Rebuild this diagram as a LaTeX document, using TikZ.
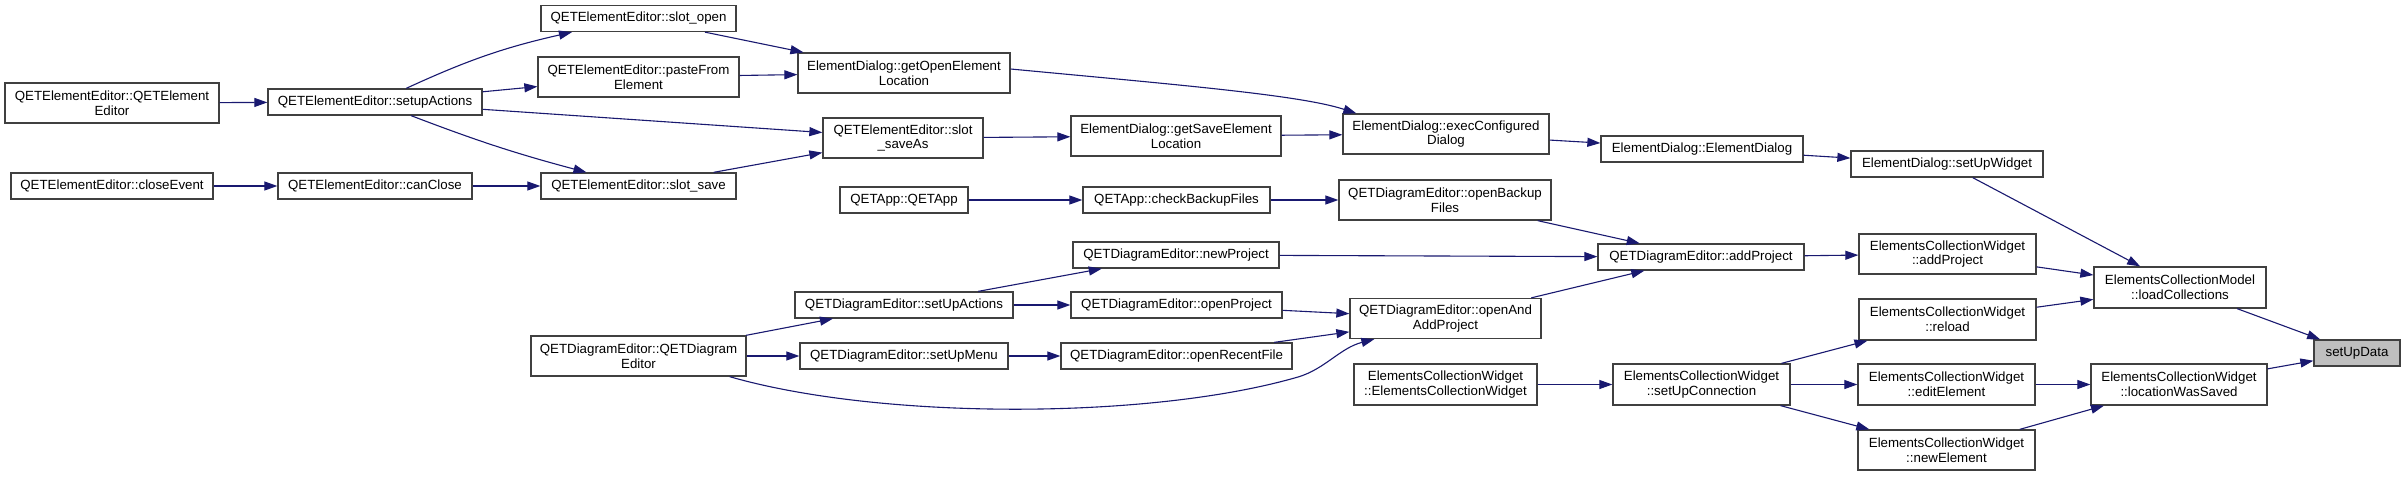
\documentclass[tikz,border=0pt]{standalone}
\usepackage{fontspec}
\setmainfont{Liberation Sans}
\usetikzlibrary{arrows.meta}
\definecolor{edgec}{HTML}{191970}
\definecolor{boxc}{HTML}{404040}
\definecolor{rootc}{HTML}{BFBFBF}
\begin{document}
\begin{tikzpicture}[x=1pt,y=-1pt,
  box/.style={draw=boxc, line width=1.3pt, fill=white, inner sep=0pt, align=center,
    font=\fontsize{13.3}{14.6}\selectfont},
  one/.style={box, minimum height=26pt},
  two/.style={box, minimum height=40pt},
  root/.style={one, fill=rootc},
  e/.style={draw=edgec, line width=1.1pt, -{Triangle[length=13pt,width=9pt]}}]
\fill[white] (0,0) rectangle (2404,477);
\useasboundingbox (0,0) rectangle (2404,477);

% QETElementEditor part
\node[two, minimum width=214pt] (eeQEE) at (112,103) {QETElementEditor::QETElement\\Editor};
\node[one, minimum width=214pt] (eeSetup) at (375,102) {QETElementEditor::setupActions};
\node[one, minimum width=195pt] (eeOpen) at (638.5,18.5) {QETElementEditor::slot\_open};
\node[two, minimum width=201pt] (eePaste) at (638.5,77) {QETElementEditor::pasteFrom\\Element};
\node[one, minimum width=202pt] (eeClose) at (112,186) {QETElementEditor::closeEvent};
\node[one, minimum width=194pt] (eeCan) at (375,186) {QETElementEditor::canClose};
\node[one, minimum width=195pt] (eeSave) at (638.5,186) {QETElementEditor::slot\_save};
\node[two, minimum width=212pt] (edGetOpen) at (904,73) {ElementDialog::getOpenElement\\Location};
\node[two, minimum width=160pt] (eeSaveAs) at (903,138) {QETElementEditor::slot\\\_saveAs};
\node[two, minimum width=210pt] (edGetSave) at (1176,136) {ElementDialog::getSaveElement\\Location};
\node[two, minimum width=206pt] (edExec) at (1446,134) {ElementDialog::execConfigured\\Dialog};
\node[one, minimum width=202pt] (edED) at (1702,149) {ElementDialog::ElementDialog};
\node[one, minimum width=192pt] (edWidget) at (1947,164) {ElementDialog::setUpWidget};

% QETApp / QETDiagramEditor part
\node[one, minimum width=128pt] (appApp) at (904,200) {QETApp::QETApp};
\node[one, minimum width=187pt] (appCheck) at (1176.5,200) {QETApp::checkBackupFiles};
\node[two, minimum width=212pt] (deBackup) at (1445,200) {QETDiagramEditor::openBackup\\Files};
\node[one, minimum width=206pt] (deNew) at (1176,255) {QETDiagramEditor::newProject};
\node[one, minimum width=206pt] (deAdd) at (1701,257) {QETDiagramEditor::addProject};
\node[two, minimum width=177pt] (ecwAdd) at (1947.5,254) {ElementsCollectionWidget\\::addProject};
\node[box, minimum height=41pt, minimum width=172pt] (ecmLoad) at (2180,287.5) {ElementsCollectionModel\\::loadCollections};
\node[two, minimum width=215pt] (deQDE) at (638.5,356) {QETDiagramEditor::QETDiagram\\Editor};
\node[one, minimum width=218pt] (deSetup) at (904,305) {QETDiagramEditor::setUpActions};
\node[one, minimum width=211pt] (deOpenP) at (1176.5,305) {QETDiagramEditor::openProject};
\node[two, minimum width=191pt] (deOpenAdd) at (1445.5,318.5) {QETDiagramEditor::openAnd\\AddProject};
\node[one, minimum width=208pt] (deMenu) at (904,356) {QETDiagramEditor::setUpMenu};
\node[one, minimum width=231pt] (deRecent) at (1176.5,356) {QETDiagramEditor::openRecentFile};

% ElementsCollectionWidget part
\node[box, minimum height=41pt, minimum width=177pt] (ecwReload) at (1947.5,319.5) {ElementsCollectionWidget\\::reload};
\node[root, minimum width=86pt] (root) at (2357,353) {setUpData};
\node[box, minimum height=41pt, minimum width=183pt] (ecwECW) at (1445.5,384.5) {ElementsCollectionWidget\\::ElementsCollectionWidget};
\node[box, minimum height=41pt, minimum width=177pt] (ecwConn) at (1701.5,384.5) {ElementsCollectionWidget\\::setUpConnection};
\node[box, minimum height=41pt, minimum width=177pt] (ecwEdit) at (1946.5,384.5) {ElementsCollectionWidget\\::editElement};
\node[box, minimum height=41pt, minimum width=176pt] (ecwLoc) at (2179,384.5) {ElementsCollectionWidget\\::locationWasSaved};
\node[two, minimum width=177pt] (ecwNew) at (1946.5,450) {ElementsCollectionWidget\\::newElement};

% edges
\draw[e] (eeQEE) -- (eeSetup);
\draw[e] (eeSetup) to[bend left=6] (eeOpen);
\draw[e] (eeSetup) -- (eePaste);
\draw[e] (eeSetup) -- (eeSaveAs);
\draw[e] (eeSetup) to[bend right=3] (eeSave);
\draw[e] (eeClose) -- (eeCan);
\draw[e] (eeCan) -- (eeSave);
\draw[e] (eeOpen) -- (edGetOpen);
\draw[e] (eePaste) -- (edGetOpen);
\draw[e] (eeSave) -- (eeSaveAs);
\draw[e] (eeSaveAs) -- (edGetSave);
\draw[e] ([yshift=4pt]edGetOpen.east) .. controls (1180,85) and (1300,95) .. ([xshift=14pt]edExec.north west);
\draw[e] (edGetSave) -- (edExec);
\draw[e] (edExec) -- (edED);
\draw[e] (edED) -- (edWidget);
\draw[e] (edWidget) -- (ecmLoad);

\draw[e] (appApp) -- (appCheck);
\draw[e] (appCheck) -- (deBackup);
\draw[e] (deBackup) -- (deAdd);
\draw[e] (deNew) -- (deAdd);
\draw[e] (deOpenAdd) -- (deAdd);
\draw[e] (deAdd) -- (ecwAdd);
\draw[e] (ecwAdd) -- (ecmLoad);
\draw[e] (ecwReload) -- (ecmLoad);
\draw[e] (ecmLoad) -- (root);
\draw[e] (ecwLoc) -- (root);

\draw[e] (deQDE) -- (deSetup);
\draw[e] (deQDE) -- (deMenu);
\draw[e] ([xshift=-17pt]deQDE.south east) .. controls (880,420) and (1150,420) .. (1298,377)
   .. controls (1325,369) and (1340,348) .. ([xshift=25pt]deOpenAdd.south west);
\draw[e] (deSetup) -- (deNew);
\draw[e] (deSetup) -- (deOpenP);
\draw[e] (deOpenP) -- (deOpenAdd);
\draw[e] (deMenu) -- (deRecent);
\draw[e] (deRecent) -- (deOpenAdd);

\draw[e] (ecwECW) -- (ecwConn);
\draw[e] (ecwConn) -- (ecwReload);
\draw[e] (ecwConn) -- (ecwEdit);
\draw[e] (ecwConn) -- (ecwNew);
\draw[e] (ecwEdit) -- (ecwLoc);
\draw[e] (ecwNew) -- (ecwLoc);
\end{tikzpicture}
\end{document}
